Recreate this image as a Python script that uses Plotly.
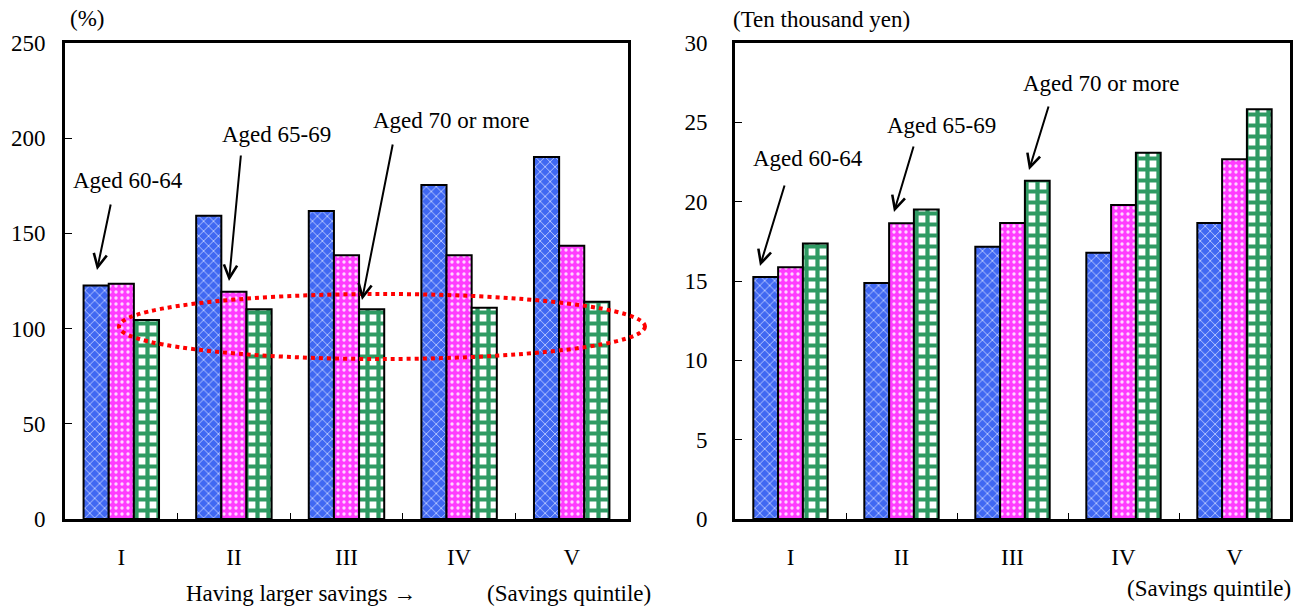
import plotly.graph_objects as go

quintiles = ["I", "II", "III", "IV", "V"]
groups = ["Aged 60-64", "Aged 65-69", "Aged 70 or more"]

# Left panel (%)
ratio_60_64 = [122.7, 159.3, 161.8, 175.4, 190.1]
ratio_65_69 = [123.6, 119.4, 138.5, 138.5, 143.5]
ratio_70_up = [104.5, 110.1, 110.1, 111.0, 114.1]

# Right panel (ten thousand yen)
amt_60_64 = [15.25, 14.87, 17.16, 16.78, 18.65]
amt_65_69 = [15.86, 18.64, 18.65, 19.79, 22.68]
amt_70_up = [17.36, 19.50, 21.32, 23.08, 25.83]

left_ticks = [0, 50, 100, 150, 200, 250]
right_ticks = [0, 5, 10, 15, 20, 25, 30]

W, H = 1306, 607
ML, MR, MT, MB = 65, 16, 43, 88
PW = W - ML - MR
PH = H - MT - MB

def px(x):
    return (x - ML) / PW

def py(y):
    return (H - MB - y) / PH

styles = [
    dict(shape="x", bgcolor="#4068f2", fgcolor="#b8c8ff", size=7, solidity=0.25),
    dict(shape=".", bgcolor="#ff3cff", fgcolor="#ffd6ff", size=6, solidity=0.25),
    dict(shape="+", bgcolor="#ffffff", fgcolor="#2f9a63", size=11, solidity=0.62),
]

FONT = "Liberation Serif, Times New Roman, serif"
FS = 23

fig = go.Figure()
left_vals = [ratio_60_64, ratio_65_69, ratio_70_up]
right_vals = [amt_60_64, amt_65_69, amt_70_up]
for i, name in enumerate(groups):
    st = styles[i]
    pat = dict(shape=st["shape"], bgcolor=st["bgcolor"], fgcolor=st["fgcolor"],
               size=st["size"], solidity=st["solidity"], fillmode="replace")
    fig.add_trace(go.Bar(
        x=quintiles, y=left_vals[i], name=name, xaxis="x", yaxis="y",
        offsetgroup=str(i),
        marker=dict(color=st["bgcolor"], line=dict(color="black", width=2), pattern=pat),
        showlegend=False))
    fig.add_trace(go.Bar(
        x=quintiles, y=right_vals[i], name=name, xaxis="x2", yaxis="y2",
        offsetgroup=str(i),
        marker=dict(color=st["bgcolor"], line=dict(color="black", width=2), pattern=pat),
        showlegend=False))

axis_common = dict(showline=True, linecolor="black", linewidth=3, mirror=True,
                   showgrid=False, zeroline=False,
                   tickfont=dict(family=FONT, size=FS, color="black"))

fig.update_layout(
    width=W, height=H,
    margin=dict(l=ML, r=MR, t=MT, b=MB),
    paper_bgcolor="white", plot_bgcolor="white",
    barmode="group", bargap=0.33, bargroupgap=0,
    font=dict(family=FONT, size=FS, color="black"),
    xaxis=dict(domain=[0, px(628)], type="category", ticks="inside", tickson="boundaries",
               ticklen=6, tickwidth=1, tickcolor="black", ticklabelstandoff=15, **axis_common),
    yaxis=dict(domain=[0, 1], range=[0, 250], tickvals=left_ticks, ticks="inside",
               ticklen=7, tickwidth=1, tickcolor="black", ticklabelstandoff=12, **axis_common),
    xaxis2=dict(domain=[px(735), 1], type="category", anchor="y2", ticks="inside", tickson="boundaries",
                ticklen=6, tickwidth=1, tickcolor="black", ticklabelstandoff=15, **axis_common),
    yaxis2=dict(domain=[0, 1], range=[0, 30], tickvals=right_ticks, anchor="x2", ticks="inside",
                ticklen=7, tickwidth=1, tickcolor="black", ticklabelstandoff=20, **axis_common),
)

def text_ann(t, x, y, xanchor="left", yanchor="middle", size=FS):
    fig.add_annotation(text=t, x=px(x), y=py(y), xref="paper", yref="paper",
                       xanchor=xanchor, yanchor=yanchor, showarrow=False,
                       font=dict(family=FONT, size=size, color="black"))

def arrow(x0, y0, x1, y1):
    fig.add_annotation(text="", x=px(x1), y=py(y1), xref="paper", yref="paper",
                       ax=x0 - x1, ay=y0 - y1, axref="pixel", ayref="pixel",
                       showarrow=True, arrowhead=5, arrowsize=1.3, arrowwidth=2,
                       arrowcolor="black", standoff=0)

# axis unit labels
text_ann("(%)", 68, 19)
text_ann("(Ten thousand yen)", 731, 20)
text_ann("Having larger savings \u2192", 184, 593)
text_ann("(Savings quintile)", 485, 593)
text_ann("(Savings quintile)", 1125, 588)

# left callouts
text_ann("Aged 60-64", 71, 181)
arrow(111, 203, 97, 270)
text_ann("Aged 65-69", 220, 134)
arrow(241, 154, 229, 281)
text_ann("Aged 70 or more", 371, 121)
arrow(393, 143, 362, 300)

# right callouts
text_ann("Aged 60-64", 751, 158)
arrow(785, 184, 760, 266)
text_ann("Aged 65-69", 885, 125)
arrow(914, 145, 894, 212)
text_ann("Aged 70 or more", 1021, 83)
arrow(1049, 105, 1029, 170)

# red dotted ellipse
fig.add_shape(type="circle", xref="paper", yref="paper",
              x0=px(119), x1=px(645), y0=py(359), y1=py(294),
              line=dict(color="red", width=4, dash="dot"), layer="above")

fig.write_html("out.html")
